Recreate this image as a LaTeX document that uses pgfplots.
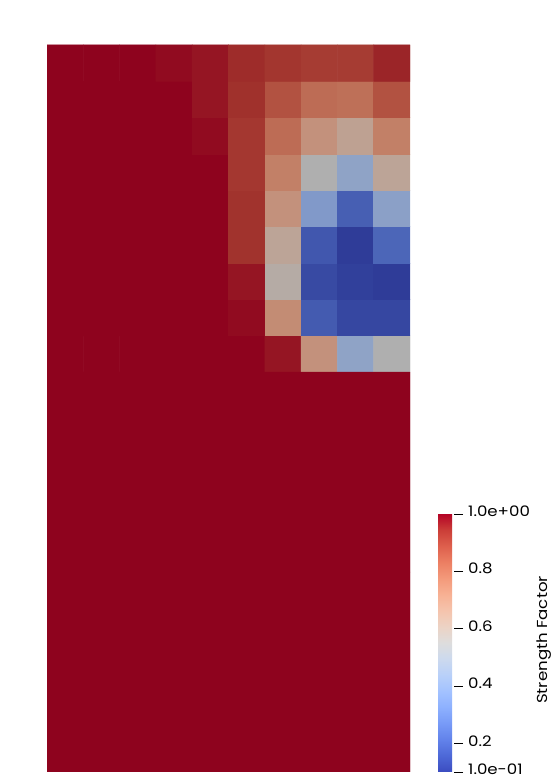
\documentclass[border=0pt]{standalone}
\usepackage{fontspec}
\setmainfont{Poppins}
\newfontfamily\cbfamily[FakeStretch=1.15]{Poppins}
\usepackage{pgfplots}
\usepackage{pgfplotstable}
\pgfplotsset{compat=1.18}

% cool to warm, as in the colour legend
\pgfplotsset{colormap={ctw}{
  rgb255=(59,76,192) rgb255=(77,104,215) rgb255=(98,130,234) rgb255=(119,154,247)
  rgb255=(141,176,254) rgb255=(163,194,255) rgb255=(184,208,249) rgb255=(204,217,238)
  rgb255=(221,221,221) rgb255=(236,211,197) rgb255=(245,196,173) rgb255=(247,177,148)
  rgb255=(244,154,123) rgb255=(236,127,99) rgb255=(222,96,77) rgb255=(203,62,56)
  rgb255=(180,4,38)}}
% same map as the lit surface shows it (darker)
\pgfplotsset{colormap={ctwdark}{
  rgb255=(47,60,152) rgb255=(61,82,170) rgb255=(77,103,185) rgb255=(94,122,195)
  rgb255=(111,139,201) rgb255=(129,153,201) rgb255=(145,164,197) rgb255=(161,171,188)
  rgb255=(175,175,175) rgb255=(186,167,156) rgb255=(194,155,137) rgb255=(195,140,117)
  rgb255=(193,122,97) rgb255=(186,100,78) rgb255=(175,76,61) rgb255=(160,49,44)
  rgb255=(142,3,30)}}

\newcommand\cbfont{\cbfamily\fontsize{14.5}{17}\selectfont}

% upper block: 10 x 9 cells
\pgfplotstableread{
x y v
0.5 11.5 1
1.5 11.5 1
2.5 11.5 1
3.5 11.5 1
4.5 11.5 1
5.5 11.5 1
6.5 11.5 0.978
7.5 11.5 0.70
8.5 11.5 0.43
9.5 11.5 0.55
0.5 12.5 1
1.5 12.5 1
2.5 12.5 1
3.5 12.5 1
4.5 12.5 1
5.5 12.5 0.99
6.5 12.5 0.72
7.5 12.5 0.18
8.5 12.5 0.127
9.5 12.5 0.127
0.5 13.5 1
1.5 13.5 1
2.5 13.5 1
3.5 13.5 1
4.5 13.5 1
5.5 13.5 0.978
6.5 13.5 0.58
7.5 13.5 0.135
8.5 13.5 0.11
9.5 13.5 0.10
0.5 14.5 1
1.5 14.5 1
2.5 14.5 1
3.5 14.5 1
4.5 14.5 1
5.5 14.5 0.94
6.5 14.5 0.62
7.5 14.5 0.17
8.5 14.5 0.10
9.5 14.5 0.21
0.5 15.5 1
1.5 15.5 1
2.5 15.5 1
3.5 15.5 1
4.5 15.5 1
5.5 15.5 0.94
6.5 15.5 0.70
7.5 15.5 0.38
8.5 15.5 0.19
9.5 15.5 0.415
0.5 16.5 1
1.5 16.5 1
2.5 16.5 1
3.5 16.5 1
4.5 16.5 1
5.5 16.5 0.93
6.5 16.5 0.757
7.5 16.5 0.55
8.5 16.5 0.43
9.5 16.5 0.62
0.5 17.5 1
1.5 17.5 1
2.5 17.5 1
3.5 17.5 1
4.5 17.5 0.99
5.5 17.5 0.93
6.5 17.5 0.81
7.5 17.5 0.70
8.5 17.5 0.635
9.5 17.5 0.757
0.5 18.5 1
1.5 18.5 1
2.5 18.5 1
3.5 18.5 1
4.5 18.5 0.978
5.5 18.5 0.943
6.5 18.5 0.874
7.5 18.5 0.81
8.5 18.5 0.80
9.5 18.5 0.874
0.5 19.5 1
1.5 19.5 1
2.5 19.5 1
3.5 19.5 0.99
4.5 19.5 0.978
5.5 19.5 0.95
6.5 19.5 0.933
7.5 19.5 0.92
8.5 19.5 0.92
9.5 19.5 0.958
}\uppercells

% lower block: uniform, drawn as 2 x 2 cells
\pgfplotstableread{
x y v
2.5 2.75 1
7.5 2.75 1
2.5 8.25 1
7.5 8.25 1
}\lowercells

\begin{document}
\begin{tikzpicture}
\useasboundingbox (-47bp,-12bp) rectangle (507bp,772bp);
\begin{axis}[
    at={(0,0)}, anchor=south west,
    scale only axis, width=363bp, height=727bp,
    xmin=0, xmax=10, ymin=0, ymax=20,
    hide axis,
    colormap name=ctwdark,
    point meta min=0.1, point meta max=1,
    colorbar,
    colorbar style={
      colormap name=ctw,
      at={(parent axis.south east)}, anchor=south west, xshift=19.5bp,
      width=16bp, height=258bp,
      ytick={0.1,0.2,0.4,0.6,0.8,1},
      yticklabels={1.0e-01,0.2,0.4,0.6,0.8,1.0e+00},
      axis line style={draw=none},
      ytick pos=right, yticklabel pos=right,
      ytick style={black, line width=0.9bp},
      major tick length=9bp,
      tick align=outside,
      yticklabel style={font=\cbfont, anchor=west, inner sep=0pt, xshift=5bp, yshift=2.5bp},
      /pgf/number format/assume math mode=true,
    },
  ]
  \addplot[matrix plot*, shader=faceted, faceted color=mapped color, line width=0.6bp,
    mesh/cols=10, point meta=explicit] table[x=x, y=y, meta=v] {\uppercells};
  \addplot[matrix plot*, shader=faceted, faceted color=mapped color, line width=0.6bp,
    mesh/cols=2, point meta=explicit] table[x=x, y=y, meta=v] {\lowercells};
\end{axis}
\node[rotate=90, font=\cbfont, inner sep=0pt, anchor=base] at (500bp,132bp) {Strength Factor};
\end{tikzpicture}
\end{document}
